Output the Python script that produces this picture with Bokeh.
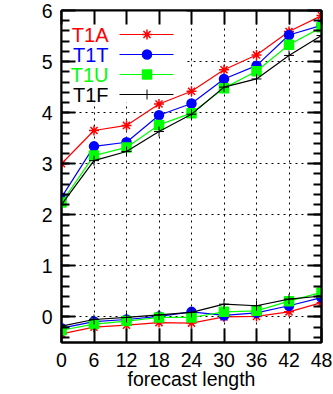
from bokeh.plotting import figure
from bokeh.models import FixedTicker, LinearAxis, BoxAnnotation, Range1d
from bokeh.core.properties import value
from bokeh.embed import file_html
from bokeh.resources import INLINE

# ---- data ----
lead = [0, 6, 12, 18, 24, 30, 36, 42, 48]
names = ["T1A", "T1T", "T1U", "T1F"]
upper = {
    "T1A": [3.00, 3.65, 3.75, 4.17, 4.42, 4.84, 5.13, 5.59, 5.90],
    "T1T": [2.34, 3.34, 3.42, 3.95, 4.18, 4.66, 4.92, 5.52, 5.71],
    "T1U": [2.24, 3.16, 3.32, 3.76, 3.99, 4.48, 4.81, 5.33, 5.67],
    "T1F": [2.20, 3.06, 3.24, 3.63, 3.97, 4.50, 4.66, 5.12, 5.51],
}
lower = {
    "T1A": [-0.33, -0.20, -0.16, -0.11, -0.12, 0.00, 0.01, 0.10, 0.28],
    "T1T": [-0.22, -0.09, -0.05, 0.01, 0.10, 0.03, 0.08, 0.22, 0.38],
    "T1U": [-0.26, -0.14, -0.08, -0.01, -0.01, 0.10, 0.12, 0.31, 0.48],
    "T1F": [-0.18, -0.05, -0.01, 0.04, 0.09, 0.25, 0.22, 0.35, 0.41],
}
y_ticks = [0, 1, 2, 3, 4, 5, 6]
x_label = "forecast length"

# ---- styles ----
colors = {"T1A": "#ff0000", "T1T": "#0000ff", "T1U": "#00ff00", "T1F": "#000000"}
markers = {"T1A": "asterisk", "T1T": "circle", "T1U": "square", "T1F": "cross"}
msize = {"T1A": 10, "T1T": 9, "T1U": 9, "T1F": 10}
FONT = "Liberation Sans"
FS = "19.5px"

W, H = 333, 394
ML, MR, MT, MB = 61, 12, 10, 52
X0, X1, Y0, Y1 = 0, 48, -0.5, 6
FW, FH = W - ML - MR, H - MT - MB

def px2x(px):
    return X0 + (px - ML) / FW * (X1 - X0)

def px2y(py):
    return Y1 - (py - MT) / FH * (Y1 - Y0)

p = figure(width=W, height=H, output_backend="svg", toolbar_location=None,
           x_range=Range1d(X0, X1), y_range=Range1d(Y0, Y1),
           min_border_left=ML, min_border_right=MR, min_border_top=MT, min_border_bottom=MB)
p.background_fill_color = "white"
p.border_fill_color = "white"
p.outline_line_color = "black"
p.outline_line_width = 2

xt = FixedTicker(ticks=lead, minor_ticks=[])
minor = [round(-0.4 + 0.2 * i, 2) for i in range(32)]
yt = FixedTicker(ticks=y_ticks, minor_ticks=minor)

def style_axis(ax, ticks, labels=True, minor_on=True):
    ax.axis_line_color = "black"
    ax.axis_line_width = 2
    ax.major_tick_line_width = 2
    ax.major_tick_in = 14
    ax.major_tick_out = 0
    ax.minor_tick_line_width = 2
    ax.minor_tick_in = 8 if minor_on else 0
    ax.minor_tick_out = 0
    if not minor_on:
        ax.minor_tick_line_color = None
    ax.major_label_text_font = FONT
    ax.major_label_text_font_size = FS
    ax.major_label_text_color = "black"
    if not labels:
        ax.major_label_overrides = {t: "" for t in ticks}
        ax.major_label_standoff = 0

p.xaxis.ticker = xt
p.yaxis.ticker = yt
style_axis(p.xaxis[0], lead, True, False)
style_axis(p.yaxis[0], y_ticks, True, True)
p.xaxis.major_label_standoff = 10
p.yaxis.major_label_standoff = 9
p.xaxis.axis_label = x_label
p.xaxis.axis_label_text_font = FONT
p.xaxis.axis_label_text_font_size = FS
p.xaxis.axis_label_text_font_style = "normal"
p.xaxis.axis_label_text_color = "black"
p.xaxis.axis_label_standoff = -2

top = LinearAxis(ticker=xt)
style_axis(top, lead, False, False)
p.add_layout(top, "above")
right = LinearAxis(ticker=yt)
style_axis(right, y_ticks, False, True)
p.add_layout(right, "right")

p.xgrid.ticker = xt
p.ygrid.ticker = FixedTicker(ticks=y_ticks)
for g in (p.xgrid[0], p.ygrid[0]):
    g.grid_line_color = "black"
    g.grid_line_width = 1
    g.grid_line_dash = "2 4"

# legend background (covers grid)
p.add_layout(BoxAnnotation(left=px2x(ML), right=px2x(186), top=px2y(MT), bottom=px2y(102),
                           fill_color="white", fill_alpha=1, line_color=None, level="underlay"))

for nm in names:
    c = colors[nm]
    for series in (upper, lower):
        p.line(lead, series[nm], line_color=c, line_width=1.2)
        p.scatter(lead, series[nm], marker=markers[nm], size=msize[nm],
                  fill_color=c, line_color=c, line_width=1.5 if nm != "T1F" else 1)

# manual legend (text left, sample right, as in gnuplot)
row_y = [34, 54, 74, 94]
for nm, ry in zip(names, row_y):
    c = colors[nm]
    yy = px2y(ry)
    p.text(x=[px2x(108)], y=[yy], text=[nm], text_align="right", text_baseline="middle",
           text_font=value(FONT), text_font_size="20px", text_color=c)
    p.segment(x0=[px2x(119)], y0=[yy], x1=[px2x(173)], y1=[yy], line_color=c, line_width=1.2)
    p.scatter(x=[px2x(146.5)], y=[yy], marker=markers[nm], size=msize[nm],
              fill_color=c, line_color=c, line_width=1.5 if nm != "T1F" else 1)

open("out.html", "w").write(file_html(p, INLINE))
